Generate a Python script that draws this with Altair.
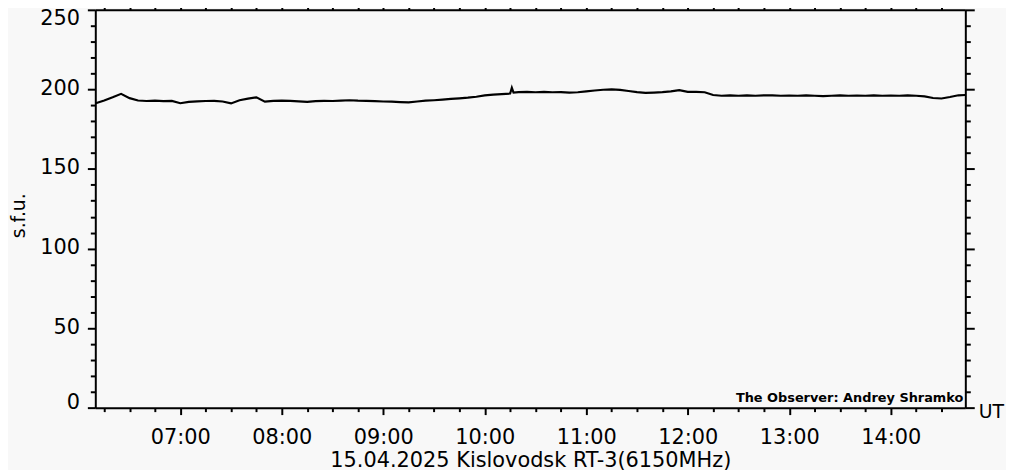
import altair as alt
import pandas as pd

# ---- data ----
times = [
    "06:10", "06:15", "06:20", "06:25", "06:30", "06:35", "06:40", "06:45", "06:50", "06:55",
    "07:00", "07:05", "07:10", "07:15", "07:20", "07:25", "07:30", "07:35", "07:40", "07:45",
    "07:50", "07:55", "08:00", "08:05", "08:10", "08:15", "08:20", "08:25", "08:30", "08:35",
    "08:40", "08:45", "08:50", "08:55", "09:00", "09:05", "09:10", "09:15", "09:20", "09:25",
    "09:30", "09:35", "09:40", "09:45", "09:50", "09:55", "10:00", "10:05", "10:10", "10:15",
    "10:16", "10:17", "10:20", "10:25", "10:30", "10:35", "10:40", "10:45", "10:50", "10:55",
    "11:00", "11:05", "11:10", "11:15", "11:20", "11:25", "11:30", "11:35", "11:40", "11:45",
    "11:50", "11:55", "12:00", "12:05", "12:10", "12:15", "12:20", "12:25", "12:30", "12:35",
    "12:40", "12:45", "12:50", "12:55", "13:00", "13:05", "13:10", "13:15", "13:20", "13:25",
    "13:30", "13:35", "13:40", "13:45", "13:50", "13:55", "14:00", "14:05", "14:10", "14:15",
    "14:20", "14:25", "14:30", "14:35", "14:40", "14:44",
]
sfu = [
    191.3, 193.0, 195.0, 197.2, 194.5, 193.0, 192.7, 192.9, 192.6, 192.8,
    191.3, 192.2, 192.5, 192.7, 192.8, 192.4, 191.2, 193.2, 194.2, 195.0,
    192.3, 192.8, 193.0, 192.8, 192.5, 192.2, 192.6, 192.8, 192.7, 193.0,
    193.2, 192.9, 192.8, 192.6, 192.4, 192.3, 192.0, 191.8, 192.4, 192.9,
    193.2, 193.6, 194.0, 194.4, 194.8, 195.4, 196.2, 196.7, 197.0, 197.4,
    201.0, 198.0, 198.3, 198.5, 198.2, 198.5, 198.2, 198.3, 198.0, 198.2,
    198.8, 199.3, 199.8, 200.0, 199.7, 199.0, 198.3, 197.8, 198.0, 198.3,
    198.8, 199.5, 198.5, 198.5, 198.2, 196.5, 196.0, 196.2, 196.0, 196.2,
    196.0, 196.3, 196.2, 196.0, 196.1, 196.0, 196.2, 196.0, 195.8, 196.0,
    196.2, 196.0, 196.1, 196.0, 196.3, 196.0, 196.1, 196.0, 196.2, 196.0,
    195.6, 194.6, 194.3, 195.2, 196.3, 196.5,
]
x_major = [7, 8, 9, 10, 11, 12, 13, 14]
y_major = [0, 50, 100, 150, 200, 250]
x_domain = [6.1623, 14.735]
y_domain = [0, 250]
title_text = "15.04.2025 Kislovodsk RT-3(6150MHz)"
observer = ["The Observer: Andrey Shramko"]

hours = [int(t[:2]) + int(t[3:]) / 60 for t in times]
df = pd.DataFrame({"hour": hours, "sfu": sfu})

x_ticks = [h / 4 for h in range(25, 59)]  # every 15 minutes
y_ticks = list(range(0, 251, 10))

FONT = "DejaVu Sans"
W, H = 877, 401
BG = "#f8f8f8"

common_axis = dict(
    domainColor="black", domainWidth=2, tickColor="black", tickWidth=2,
    grid=False, labelFont=FONT, labelColor="black", titleFont=FONT,
    titleColor="black", titleFontWeight="normal",
)

x_bottom = alt.Axis(
    orient="bottom", values=x_ticks,
    tickSize={"condition": {"test": "datum.value % 1 === 0", "value": 7}, "value": 4},
    labelExpr="datum.value % 1 === 0 ? format(datum.value, '02d') + ':00' : ''",
    labelFontSize=21, labelPadding=29, labelBaseline="alphabetic",
    title=title_text, titleFontSize=21, titleX=W / 2, titleY=59, titleBaseline="alphabetic",
    labelFlush=False, labelOverlap=False, **common_axis,
)
y_left = alt.Axis(
    orient="left", values=y_ticks,
    tickSize={"condition": {"test": "datum.value % 50 === 0", "value": 8}, "value": 5},
    labelExpr="datum.value % 50 === 0 ? datum.label : ''",
    labelFontSize=21, labelPadding=8, labelFlush=False, labelOverlap=False,
    labelBaseline="middle",
    labelOffset={"condition": [{"test": "datum.value === 250", "value": 9},
                               {"test": "datum.value === 0", "value": -5}], "value": -1},
    title="s.f.u.", titleFontSize=19, titleX=-77, titleY=207, titleAngle=-90,
    titleBaseline="middle", **common_axis,
)
x_top = alt.Axis(
    orient="top", values=x_ticks, labels=False,
    tickSize={"condition": {"test": "datum.value % 1 === 0", "value": 8}, "value": 4},
    title="UT", titleFontSize=19, titleX=W + 13, titleY=H + 4, titleAlign="left",
    titleBaseline="middle", titleAngle=0, **common_axis,
)
y_right = alt.Axis(
    orient="right", values=y_ticks, labels=False, title=None,
    tickSize={"condition": {"test": "datum.value % 50 === 0", "value": 9}, "value": 5},
    **common_axis,
)

xs = alt.Scale(domain=x_domain, nice=False, zero=False)
ys = alt.Scale(domain=y_domain, nice=False)

line1 = alt.Chart(df).mark_line(color="black", strokeWidth=2.2).encode(
    x=alt.X("hour:Q", scale=xs, axis=x_bottom),
    y=alt.Y("sfu:Q", scale=ys, axis=y_left),
)
line2 = alt.Chart(df).mark_line(color="black", strokeWidth=2, opacity=0).encode(
    x=alt.X("hour:Q", scale=xs, axis=x_top),
    y=alt.Y("sfu:Q", scale=ys, axis=y_right),
)
note = alt.Chart(pd.DataFrame({"t": observer})).mark_text(
    font=FONT, fontSize=13, fontWeight="bold", color="black", align="right", baseline="middle"
).encode(text="t:N", x=alt.value(W - 2), y=alt.value(H - 10))

chart = alt.layer(line1, line2, note).resolve_axis(
    x="independent", y="independent"
).properties(
    width=W, height=H, background=BG,
    autosize=alt.AutoSizeParams(type="none"),
    padding={"left": 88, "top": 0, "right": 41, "bottom": 61},
).configure_view(stroke=None)

chart.save("out.html", embed_options={"renderer": "svg", "actions": False})
